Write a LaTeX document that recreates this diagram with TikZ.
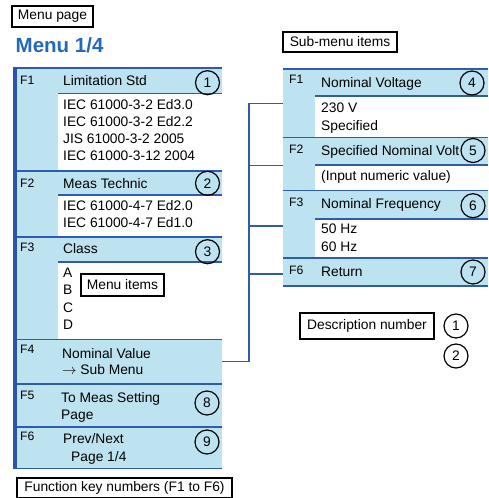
\documentclass[tikz,border=0pt]{standalone}
\usepackage{fontspec}
\setmainfont{Liberation Sans}
\definecolor{panelblue}{RGB}{189,227,241}
\definecolor{barblue}{RGB}{40,85,165}
\definecolor{lineblue}{RGB}{45,92,172}
\definecolor{titleblue}{RGB}{35,105,185}
\begin{document}
\begin{tikzpicture}[x=1pt,y=-1pt,
  txt/.style={font=\fontsize{13.8}{16}\selectfont, inner sep=0pt, anchor=base west},
  fkey/.style={font=\fontsize{12.2}{14}\selectfont, inner sep=0pt, anchor=base west},
  sep/.style={draw=lineblue, line width=1.4pt},
  conn/.style={draw=lineblue, line width=1.3pt},
  num/.style={circle, draw=black, line width=1.2pt, minimum size=24pt, inner sep=0pt,
              font=\fontsize{13.8}{16}\selectfont},
  lbl/.style={draw=black, line width=1.1pt, fill=white, inner sep=0pt,
              font=\fontsize{13.8}{16}\selectfont}]
\useasboundingbox (0,0) rectangle (489,498);

% ---------- title ----------
\node[lbl, minimum width=81pt, minimum height=21pt] (menupage) at (52.5,16.5) {Menu page};
\node[inner sep=0pt, anchor=base west, text=titleblue,
      font=\fontsize{20.5}{24}\selectfont\bfseries] (title) at (15.5,52) {Menu 1/4};

% ---------- left panel ----------
\fill[panelblue] (13,68) rectangle (222,468.5);
\fill[white] (58,93.5) rectangle (222,171);
\fill[white] (58,195) rectangle (222,237);
\fill[white] (58,262) rectangle (222,339.5);
\foreach \y in {68,171,237,339.5,384,427,468.5} \draw[sep] (13,\y) -- (222,\y);
\foreach \y in {93.5,195,262} \draw[sep] (58,\y) -- (222,\y);
\fill[barblue] (13,67.3) rectangle (17,469.2);

\node[fkey] (lf1) at (20,84) {F1};
\node[txt] (lt1) at (63,85.5) {Limitation Std};
\node[txt] (li11) at (63,109) {IEC 61000-3-2 Ed3.0};
\node[txt] (li12) at (63,126.2) {IEC 61000-3-2 Ed2.2};
\node[txt] (li13) at (63,143.4) {JIS 61000-3-2 2005};
\node[txt] (li14) at (63,160.6) {IEC 61000-3-12 2004};
\node[num] (c1) at (207.5,82.7) {1};

\node[fkey] (lf2) at (20,187.5) {F2};
\node[txt] (lt2) at (63,188.8) {Meas Technic};
\node[txt] (li21) at (63,210) {IEC 61000-4-7 Ed2.0};
\node[txt] (li22) at (63,227.8) {IEC 61000-4-7 Ed1.0};
\node[num] (c2) at (207.5,183.3) {2};

\node[fkey] (lf3) at (20,251.7) {F3};
\node[txt] (lt3) at (63,253) {Class};
\node[txt] (li31) at (63,277) {A};
\node[txt] (li32) at (63,294.5) {B};
\node[txt] (li33) at (63,312) {C};
\node[txt] (li34) at (63,329.5) {D};
\node[num] (c3) at (207.5,251.7) {3};
\node[lbl, minimum width=83pt, minimum height=22pt] (menuitems) at (122.5,285) {Menu items};

\node[fkey] (lf4) at (20,353) {F4};
\node[txt, text depth=0pt] (lt4a) at (62,358.5) {Nominal Value};
\node[txt, text height=10pt] (lt4b) at (62,374.2) {$\rightarrow$ Sub Menu};

\node[fkey] (lf5) at (20,399) {F5};
\node[txt] (lt5a) at (61,402.8) {To Meas Setting};
\node[txt] (lt5b) at (61,419.4) {Page};
\node[num] (c8) at (207,403) {8};

\node[fkey] (lf6) at (20,440.5) {F6};
\node[txt] (lt6a) at (63,443.3) {Prev/Next};
\node[txt] (lt6b) at (71,461) {Page 1/4};
\node[num] (c9) at (207,442) {9};

\node[lbl, minimum width=215pt, minimum height=19.5pt] (fkeys) at (124.5,487.75) {Function key numbers (F1 to F6)};

% ---------- right panel ----------
\node[lbl, minimum width=114pt, minimum height=20pt] (submenu) at (340,42) {Sub-menu items};

\fill[panelblue] (283,69) rectangle (488,286);
\fill[white] (315,96) rectangle (488,137.7);
\fill[white] (315,165) rectangle (488,190.7);
\fill[white] (315,219) rectangle (488,258);
\foreach \y in {69,137.7,190.7,258,286} \draw[sep] (283,\y) -- (488,\y);
\foreach \y in {96,165,219} \draw[sep] (315,\y) -- (488,\y);

\node[fkey] (rf1) at (289,83) {F1};
\node[txt] (rt1) at (321,87) {Nominal Voltage};
\node[txt] (ri11) at (321,112) {230 V};
\node[txt] (ri12) at (321,130) {Specified};
\node[num] (c4) at (472,83) {4};

\node[fkey] (rf2) at (289,153) {F2};
\node[txt] (rt2) at (321,155) {Specified Nominal Volt};
\node[txt] (ri21) at (321,180.5) {(Input numeric value)};
\node[num] (c5) at (473,150.5) {5};

\node[fkey] (rf3) at (289,206.5) {F3};
\node[txt] (rt3) at (321,208.5) {Nominal Frequency};
\node[txt] (ri31) at (321,233) {50 Hz};
\node[txt] (ri32) at (321,251) {60 Hz};
\node[num] (c6) at (473,205.7) {6};

\node[fkey] (rf6) at (289,274) {F6};
\node[txt] (rt6) at (321,276) {Return};
\node[num] (c7) at (473,272) {7};

% ---------- connector ----------
\coordinate (f4out) at (222,361.7);
\coordinate (junc) at (249,361.7);
\coordinate (s1in) at (283,103.3);
\coordinate (s2in) at (283,165.7);
\coordinate (s3in) at (283,226);
\coordinate (s6in) at (283,274);
\draw[conn, line join=miter] (f4out) -- (junc) |- (s1in);
\draw[conn] (junc |- s2in) -- (s2in);
\draw[conn] (junc |- s3in) -- (s3in);
\draw[conn] (junc |- s6in) -- (s6in);

% ---------- description number ----------
\node[lbl, minimum width=134pt, minimum height=26pt] (descr) at (367,326) {Description number};
\node[num] (d1) at (456,326) {1};
\node[num] (d2) at (456,356) {2};
\end{tikzpicture}
\end{document}
